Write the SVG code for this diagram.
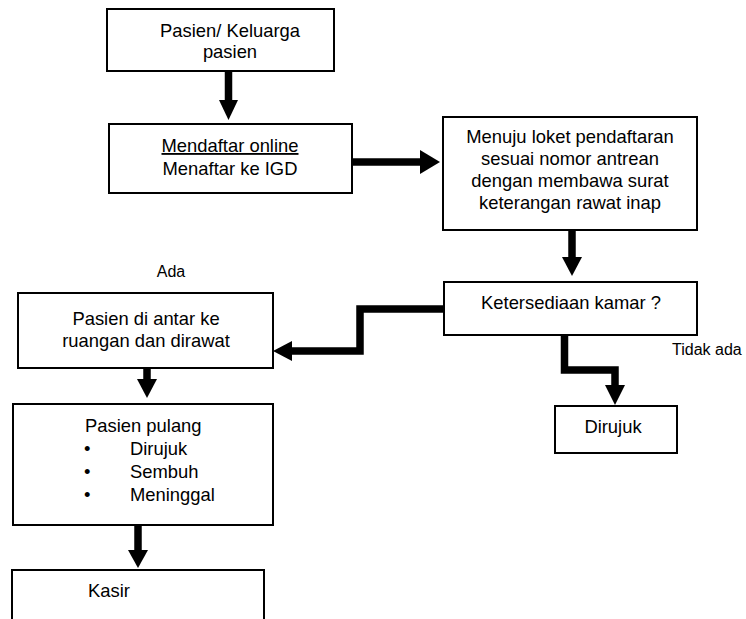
<svg xmlns="http://www.w3.org/2000/svg" width="746" height="619" viewBox="0 0 746 619">
  <style>
    .box { fill: #ffffff; stroke: #000000; stroke-width: 2; }
    .txt { font-family: "Liberation Sans", Arial, sans-serif; font-size: 18.4px; fill: #000000; }
    .mid { text-anchor: middle; }
    .lbl { font-family: "Liberation Sans", Arial, sans-serif; font-size: 16px; fill: #000000; }
    .flow { fill: none; stroke: #000000; stroke-width: 7.5; stroke-linejoin: miter; stroke-linecap: butt; }
    .head { fill: #000000; stroke: none; }
  </style>
  <rect width="746" height="619" fill="#ffffff"/>

  <!-- connectors -->
  <g id="connectors">
    <path class="flow" d="M228.5,71 V101"/>
    <polygon class="head" points="219,100 238,100 228.5,120"/>

    <path class="flow" d="M352,162 H421"/>
    <polygon class="head" points="420,150 420,174 440,162"/>

    <path class="flow" d="M572,230 V258"/>
    <polygon class="head" points="562,257 582,257 572,276"/>

    <path class="flow" d="M444,309 H360 V351 H291"/>
    <polygon class="head" points="292,341 292,361 273,351"/>

    <path class="flow" d="M564.5,335 V370 H615 V386"/>
    <polygon class="head" points="605,385 625,385 615,405"/>

    <path class="flow" d="M147,368 V380"/>
    <polygon class="head" points="137,379 157,379 147,398"/>

    <path class="flow" d="M138,525 V551"/>
    <polygon class="head" points="128,550 148,550 138,568"/>
  </g>

  <!-- nodes -->
  <g id="node-pasien">
    <rect class="box" x="107" y="9" width="227" height="62"/>
    <text class="txt mid" x="230" y="37">Pasien/ Keluarga</text>
    <text class="txt mid" x="230" y="58">pasien</text>
  </g>

  <g id="node-daftar">
    <rect class="box" x="109" y="124" width="243" height="69"/>
    <text class="txt mid" x="230" y="152" text-decoration="underline">Mendaftar online</text>
    <text class="txt mid" x="230" y="175">Menaftar ke IGD</text>
  </g>

  <g id="node-loket">
    <rect class="box" x="443" y="117" width="254" height="113"/>
    <text class="txt mid" x="570" y="143">Menuju loket pendaftaran</text>
    <text class="txt mid" x="570" y="165">sesuai nomor antrean</text>
    <text class="txt mid" x="570" y="187">dengan membawa surat</text>
    <text class="txt mid" x="570" y="209">keterangan rawat inap</text>
  </g>

  <g id="node-kamar">
    <rect class="box" x="444" y="282" width="253" height="53"/>
    <text class="txt mid" x="571" y="309">Ketersediaan kamar ?</text>
  </g>

  <g id="node-dirujuk">
    <rect class="box" x="555" y="406" width="122" height="47"/>
    <text class="txt mid" x="613" y="433">Dirujuk</text>
  </g>

  <g id="node-dirawat">
    <rect class="box" x="18" y="293" width="255" height="75"/>
    <text class="txt mid" x="146" y="325">Pasien di antar ke</text>
    <text class="txt mid" x="146" y="347">ruangan dan dirawat</text>
  </g>

  <g id="node-pulang">
    <rect class="box" x="13" y="404" width="260" height="121"/>
    <text class="txt" x="85" y="432">Pasien pulang</text>
    <text class="txt" x="84" y="455">•</text>
    <text class="txt" x="130" y="455">Dirujuk</text>
    <text class="txt" x="84" y="478">•</text>
    <text class="txt" x="130" y="478">Sembuh</text>
    <text class="txt" x="84" y="501">•</text>
    <text class="txt" x="130" y="501">Meninggal</text>
  </g>

  <g id="node-kasir">
    <rect class="box" x="12" y="570" width="252" height="70"/>
    <text class="txt" x="88" y="597">Kasir</text>
  </g>

  <!-- branch labels -->
  <g id="labels">
    <text class="lbl mid" x="171" y="277">Ada</text>
    <text class="lbl" x="672" y="355">Tidak ada</text>
  </g>
</svg>
